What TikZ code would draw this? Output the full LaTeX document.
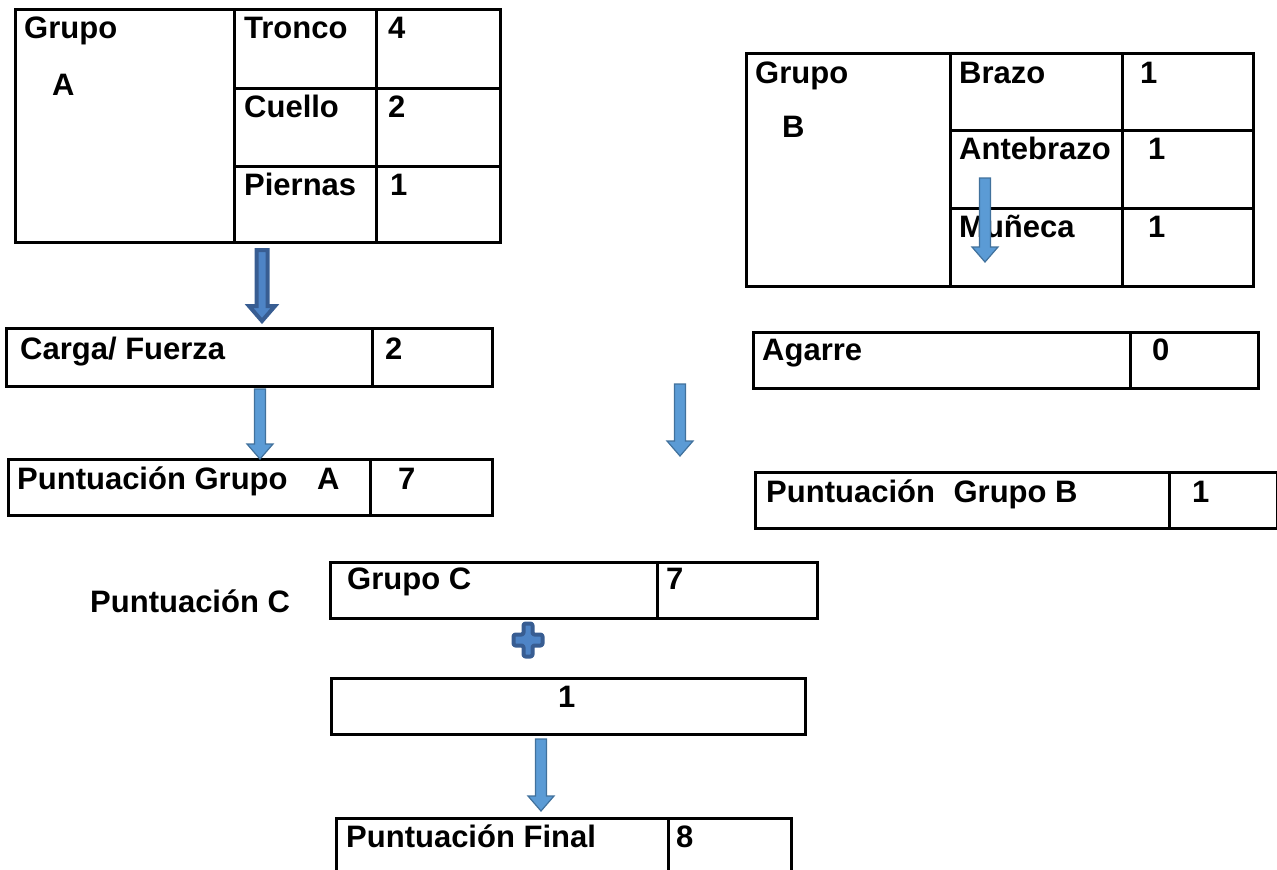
\documentclass[tikz,border=0pt]{standalone}
\usepackage{fontspec}
\setmainfont{Liberation Sans}
\usepackage{tikz}
\usetikzlibrary{calc}
\definecolor{flechafill}{RGB}{91,155,213}
\definecolor{flechaline}{RGB}{65,113,156}
\definecolor{oscurofill}{RGB}{78,132,198}
\definecolor{oscuroline}{RGB}{56,93,146}
% block arrow pointing down: style, top, tip
\newcommand{\flecha}[3]{%
  \draw[#1] ($(#2)+(-5.5,0)$) -- ($(#3)+(-5.5,-15)$) -- ($(#3)+(-13,-15)$) -- (#3)
    -- ($(#3)+(13,-15)$) -- ($(#3)+(5.5,-15)$) -- ($(#2)+(5.5,0)$) -- cycle;}

\begin{document}
\begin{tikzpicture}[x=1pt, y=-1pt,
    cell/.style={draw, line width=2.6pt, inner sep=0pt, anchor=north west},
    txt/.style={anchor=base west, inner sep=0pt, font=\bfseries\fontsize{31}{36}\selectfont},
    claro/.style={fill=flechafill, draw=flechaline, line width=1.2pt, line join=miter},
    oscuro/.style={fill=oscurofill, draw=oscuroline, line width=4pt, line join=miter}]
  \clip (0,0) rectangle (1277,870);
  % grupo A
  \node[cell, minimum width=219pt, minimum height=233pt] (grpA) at (14,8) {};
  \node[cell, minimum width=142pt, minimum height=79pt] (tronco) at (233,8) {};
  \node[cell, minimum width=124pt, minimum height=79pt] (troncoV) at (375,8) {};
  \node[cell, minimum width=142pt, minimum height=78pt] (cuello) at (233,87) {};
  \node[cell, minimum width=124pt, minimum height=78pt] (cuelloV) at (375,87) {};
  \node[cell, minimum width=142pt, minimum height=76pt] (piernas) at (233,165) {};
  \node[cell, minimum width=124pt, minimum height=76pt] (piernasV) at (375,165) {};
  \node[txt] (tGrpA) at (24,38) {Grupo};
  \node[txt] (tA) at (52,95) {A};
  \node[txt] (tTronco) at (244,38) {Tronco};
  \node[txt] (vTronco) at (388,38) {4};
  \node[txt] (tCuello) at (244,117) {Cuello};
  \node[txt] (vCuello) at (388,117) {2};
  \node[txt] (tPiernas) at (244,195) {Piernas};
  \node[txt] (vPiernas) at (390,195) {1};
  % grupo B
  \node[cell, minimum width=204pt, minimum height=233pt] (grpB) at (745,52) {};
  \node[cell, minimum width=172pt, minimum height=77pt] (brazo) at (949,52) {};
  \node[cell, minimum width=131pt, minimum height=77pt] (brazoV) at (1121,52) {};
  \node[cell, minimum width=172pt, minimum height=78pt] (antebrazo) at (949,129) {};
  \node[cell, minimum width=131pt, minimum height=78pt] (antebrazoV) at (1121,129) {};
  \node[cell, minimum width=172pt, minimum height=78pt] (muneca) at (949,207) {};
  \node[cell, minimum width=131pt, minimum height=78pt] (munecaV) at (1121,207) {};
  \node[txt] (tGrpB) at (755,83) {Grupo};
  \node[txt] (tB) at (782,137) {B};
  \node[txt] (tBrazo) at (959,83) {Brazo};
  \node[txt] (vBrazo) at (1140,83) {1};
  \node[txt] (tAntebrazo) at (959,159) {Antebrazo};
  \node[txt] (vAntebrazo) at (1148,159) {1};
  \node[txt] (tMuneca) at (959,237) {Muñeca};
  \node[txt] (vMuneca) at (1148,237) {1};
  % carga, agarre y puntuaciones
  \node[cell, minimum width=366pt, minimum height=58pt] (carga) at (5,327) {};
  \node[cell, minimum width=120pt, minimum height=58pt] (cargaV) at (371,327) {};
  \node[txt] (tCarga) at (20,359) {Carga/ Fuerza};
  \node[txt] (vCarga) at (385,359) {2};
  \node[cell, minimum width=362pt, minimum height=56pt] (puntA) at (7,458) {};
  \node[cell, minimum width=122pt, minimum height=56pt] (puntAV) at (369,458) {};
  \node[txt] (tPuntA) at (17,489) {Puntuación Grupo\hspace{0.95em}A};
  \node[txt] (vPuntA) at (398,489) {7};
  \node[cell, minimum width=377pt, minimum height=56pt] (agarre) at (752,331) {};
  \node[cell, minimum width=128pt, minimum height=56pt] (agarreV) at (1129,331) {};
  \node[txt] (tAgarre) at (762,360) {Agarre};
  \node[txt] (vAgarre) at (1152,360) {0};
  \node[cell, minimum width=414pt, minimum height=56pt] (puntB) at (754,471) {};
  \node[cell, minimum width=108pt, minimum height=56pt] (puntBV) at (1168,471) {};
  \node[txt] (tPuntB) at (766,502) {Puntuación\hspace{0.6em}Grupo B};
  \node[txt] (vPuntB) at (1192,502) {1};
  % grupo C y final
  \node[txt] (tPuntC) at (90,612) {Puntuación C};
  \node[cell, minimum width=327pt, minimum height=56pt] (grupoC) at (329,561) {};
  \node[cell, minimum width=160pt, minimum height=56pt] (grupoCV) at (656,561) {};
  \node[txt] (tGrupoC) at (347,589) {Grupo C};
  \node[txt] (vGrupoC) at (666,589) {7};
  \node[cell, minimum width=474pt, minimum height=56pt] (suma) at (330,677) {};
  \node[txt] (vSuma) at (558,707) {1};
  \node[cell, minimum width=332pt, minimum height=70pt] (final) at (335,817) {};
  \node[cell, minimum width=123pt, minimum height=70pt] (finalV) at (667,817) {};
  \node[txt] (tFinal) at (346,847) {Puntuación Final};
  \node[txt] (vFinal) at (676,847) {8};
  % flechas
  \coordinate (f1a) at (262,250); \coordinate (f1b) at (262,321);
  \coordinate (f2a) at (260,389); \coordinate (f2b) at (260,459);
  \coordinate (f3a) at (680,384); \coordinate (f3b) at (680,456);
  \coordinate (f4a) at (985,178); \coordinate (f4b) at (985,262);
  \coordinate (f5a) at (541,739); \coordinate (f5b) at (541,811);
  \flecha{oscuro}{f1a}{f1b}
  \flecha{claro}{f2a}{f2b}
  \flecha{claro}{f3a}{f3b}
  \flecha{claro}{f4a}{f4b}
  \flecha{claro}{f5a}{f5b}
  % signo mas
  \coordinate (mas) at (528,640);
  \draw[oscuro, line join=round, rounded corners=2pt]
    ($(mas)+(-4.5,-16.5)$) -- ($(mas)+(4.5,-16.5)$) -- ($(mas)+(4.5,-5.5)$) -- ($(mas)+(14.5,-5.5)$)
    -- ($(mas)+(14.5,5.5)$) -- ($(mas)+(4.5,5.5)$) -- ($(mas)+(4.5,16.5)$) -- ($(mas)+(-4.5,16.5)$)
    -- ($(mas)+(-4.5,5.5)$) -- ($(mas)+(-14.5,5.5)$) -- ($(mas)+(-14.5,-5.5)$) -- ($(mas)+(-4.5,-5.5)$) -- cycle;
\end{tikzpicture}
\end{document}
